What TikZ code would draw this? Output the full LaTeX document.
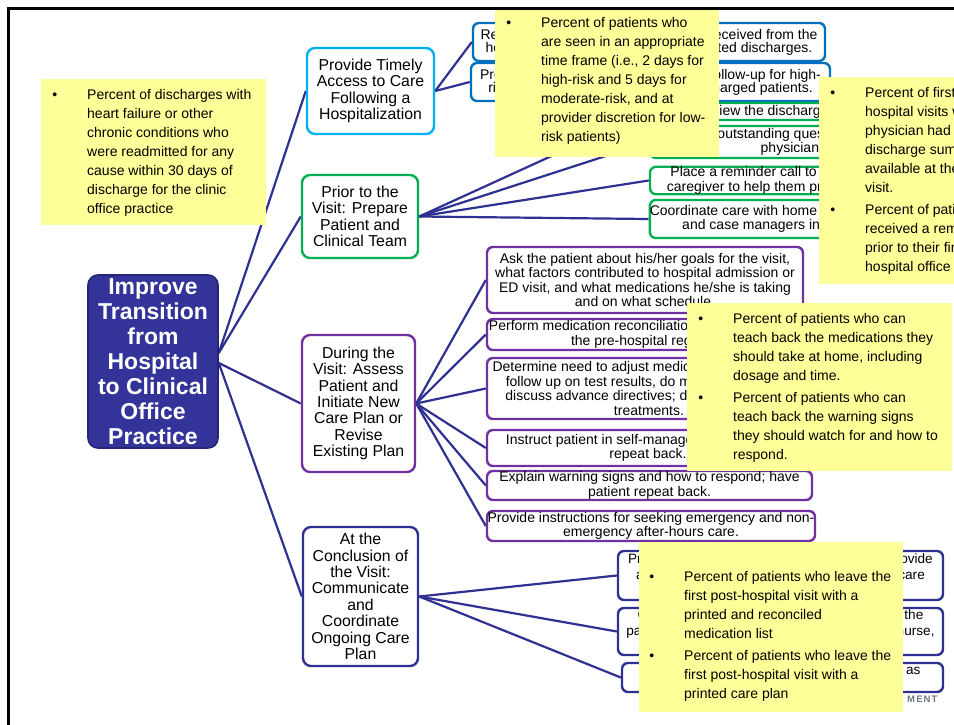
\documentclass[tikz,border=0pt]{standalone}
\usepackage{fontspec}
\setmainfont{Liberation Sans}
\newfontfamily\logofont[LetterSpace=12]{Liberation Sans}
\usetikzlibrary{backgrounds}
\lineskiplimit=-20pt

\definecolor{navy}{RGB}{46,49,146}
\definecolor{mainfill}{RGB}{51,51,153}
\definecolor{mainedge}{RGB}{38,38,118}
\definecolor{skyblue}{RGB}{0,176,240}
\definecolor{midblue}{RGB}{0,112,192}
\definecolor{leafgreen}{RGB}{0,176,80}
\definecolor{plumline}{RGB}{112,48,160}
\definecolor{noteyellow}{RGB}{255,255,153}
\definecolor{logogrey}{RGB}{110,120,132}

\newcommand\bul{\llap{\textbullet\hspace{30pt}}}

\begin{document}
\begin{tikzpicture}[x=1pt, y=-1pt,
  link/.style={draw=navy, line width=2.2pt},
  hub/.style={draw=mainedge, fill=mainfill, line width=1.6pt, rounded corners=10pt,
    inner sep=0pt, align=center, text=white, font=\bfseries\fontsize{23}{25}\selectfont},
  goal/.style={draw, fill=white, line width=2.4pt, rounded corners=8pt, inner sep=0pt,
    align=center, font=\fontsize{15.8}{16.4}\selectfont},
  task/.style={draw, fill=white, line width=2.4pt, rounded corners=6pt, inner sep=0pt,
    align=center, font=\fontsize{14}{14.4}\selectfont},
  tight/.style={font=\fontsize{14}{13}\selectfont},
  loose/.style={font=\fontsize{13.6}{15.2}\selectfont},
  note/.style={fill=noteyellow, inner sep=0pt, draw=none},
  notetext/.style={anchor=north west, inner sep=0pt, align=left, font=\fontsize{14}{19}\selectfont},
]
\useasboundingbox (0,0) rectangle (954,724);

% slide frame
\draw[line width=2.7pt, line join=miter] (962,8.7) -- (8.7,8.7) -- (8.7,732);

% central aim
\node[hub, minimum width=130, minimum height=173] (aim) at (153,361.5)
  {Improve\\Transition\\from\\Hospital\\to Clinical\\Office\\Practice};

% primary drivers
\node[goal, draw=skyblue, minimum width=127, minimum height=86] (ga) at (370.5,91)
  {Provide Timely\\Access to Care\\Following a\\Hospitalization};
\node[goal, draw=leafgreen, minimum width=116, minimum height=83] (gb) at (360,216.5)
  {Prior to the\\Visit: Prepare\\Patient and\\Clinical Team};
\node[goal, draw=plumline, minimum width=113, minimum height=137] (gc) at (358.5,403.5)
  {During the\\Visit: Assess\\Patient and\\Initiate New\\Care Plan or\\Revise\\Existing Plan};
\node[goal, draw=navy, minimum width=115, minimum height=139] (gd) at (360.5,596.5)
  {At the\\Conclusion of\\the Visit:\\Communicate\\and\\Coordinate\\Ongoing Care\\Plan};

% secondary drivers: timely access
\node[task, tight, draw=midblue, minimum width=352, minimum height=38] (a1) at (649,42)
  {Request that discharge summary be received from the\\hospital(s) before the visit for anticipated discharges.};
\node[task, tight, draw=midblue, minimum width=359, minimum height=38] (a2) at (650.5,82)
  {Provide timely access to appropriate follow-up for high-\\risk and moderate-risk, recently discharged patients.};

% secondary drivers: prior to the visit
\node[task, draw=leafgreen, minimum width=300, minimum height=17] (b1) at (800,111.5)
  {Review the discharge information.};
\node[task, draw=leafgreen, minimum width=300, minimum height=32] (b2) at (800,142)
  {Clarify outstanding questions for hospital\\physician(s).};
\node[task, draw=leafgreen, minimum width=300, minimum height=27] (b3) at (800,180.5)
  {Place a reminder call to the patient and/or\\caregiver to help them prepare for the visit.};
\node[task, draw=leafgreen, minimum width=300, minimum height=38] (b4) at (800,219)
  {Coordinate care with home health care agencies\\and case managers in the community.};

% secondary drivers: during the visit
\node[task, draw=plumline, minimum width=316, minimum height=66] (c1) at (645,280)
  {Ask the patient about his/her goals for the visit,\\what factors contributed to hospital admission or\\ED visit, and what medications he/she is taking\\and on what schedule.};
\node[task, draw=plumline, minimum width=323, minimum height=31] (c2) at (648.5,334.5)
  {Perform medication reconciliation and compare it to\\the pre-hospital regimen.};
\node[task, draw=plumline, minimum width=324, minimum height=61] (c3) at (649,388.5)
  {Determine need to adjust medications, order tests,\\follow up on test results, do monitoring, and/or\\discuss advance directives; discuss end-of-life\\treatments.};
\node[task, draw=plumline, minimum width=322, minimum height=36] (c4) at (648,448)
  {Instruct patient in self-management, and have\\repeat back.};
\node[task, draw=plumline, minimum width=325, minimum height=29] (c5) at (649.5,485.5)
  {Explain warning signs and how to respond; have\\patient repeat back.};
\node[task, draw=plumline, minimum width=328, minimum height=30] (c6) at (651,526)
  {Provide instructions for seeking emergency and non-\\emergency after-hours care.};

% secondary drivers: conclusion of the visit
\node[task, loose, draw=navy, minimum width=325, minimum height=49] (d1) at (780.5,575.5)
  {Provide the patient a printed care plan and provide\\a reconciled medication list and review self-care\\instructions with the patient and families.};
\node[task, loose, draw=navy, minimum width=325, minimum height=47] (d2) at (780.5,631.5)
  {Communicate the care plan and changes to the\\patient's care team, including the home care nurse,\\case manager, and specialists.};
\node[task, loose, draw=navy, minimum width=321, minimum height=29] (d3) at (782.5,677.5)
  {Schedule the next visit and referral for labs as\\needed.};

% connectors
\begin{scope}[on background layer]
  \fill[white] (0,0) rectangle (954,724);
  \draw[link] ([yshift=8.5pt]aim.east) -- (ga.west);
  \draw[link] ([yshift=8.5pt]aim.east) -- (gb.west);
  \draw[link] ([yshift=-1.5pt]aim.east) -- (gc.west);
  \draw[link] ([yshift=-1.5pt]aim.east) -- (gd.west);
  \foreach \t in {a1,a2} \draw[link] (ga.east) -- (\t.west);
  \foreach \t in {b1,b2,b3,b4} \draw[link] (gb.east) -- (\t.west);
  \foreach \t in {c1,c2,c3,c4,c5,c6} \draw[link] (gc.east) -- (\t.west);
  \foreach \t in {d1,d2,d3} \draw[link] (gd.east) -- (\t.west);
\end{scope}

% organisation wordmark
\node[anchor=west, inner sep=0pt, text=logogrey, font=\logofont\bfseries\fontsize{9.5}{10}\selectfont]
  (mark) at (907,699) {MENT};

% measure notes
\node[note, minimum width=225, minimum height=146] (n1) at (153.5,152) {};
\node[notetext] (t1) at (87,89.3)
  {\bul Percent of discharges with\\heart failure or other\\chronic conditions who\\were readmitted for any\\cause within 30 days of\\discharge for the clinic\\office practice};

\node[note, minimum width=224, minimum height=147] (n2) at (607,83.5) {};
\node[notetext] (t2) at (541,17.1)
  {\bul Percent of patients who\\are seen in an appropriate\\time frame (i.e., 2 days for\\high-risk and 5 days for\\moderate-risk, and at\\provider discretion for low-\\risk patients)};

\node[note, minimum width=141, minimum height=207] (n3) at (889.5,180.5) {};
\node[notetext] (t3) at (865,87.1)
  {\bul Percent of first post-\\hospital visits where the\\physician had the\\discharge summary\\available at the time of\\visit.\\[3pt]
   \bul Percent of patients who\\received a reminder call\\prior to their first post-\\hospital office visit};

\node[note, minimum width=265, minimum height=168] (n4) at (819.5,387) {};
\node[notetext] (t4) at (733,313.1)
  {\bul Percent of patients who can\\teach back the medications they\\should take at home, including\\dosage and time.\\[3pt]
   \bul Percent of patients who can\\teach back the warning signs\\they should watch for and how to\\respond.};

\node[note, minimum width=264, minimum height=170] (n5) at (771,627) {};
\node[notetext] (t5) at (684,571.5)
  {\bul Percent of patients who leave the\\first post-hospital visit with a\\printed and reconciled\\medication list\\[3pt]
   \bul Percent of patients who leave the\\first post-hospital visit with a\\printed care plan};
\end{tikzpicture}
\end{document}
